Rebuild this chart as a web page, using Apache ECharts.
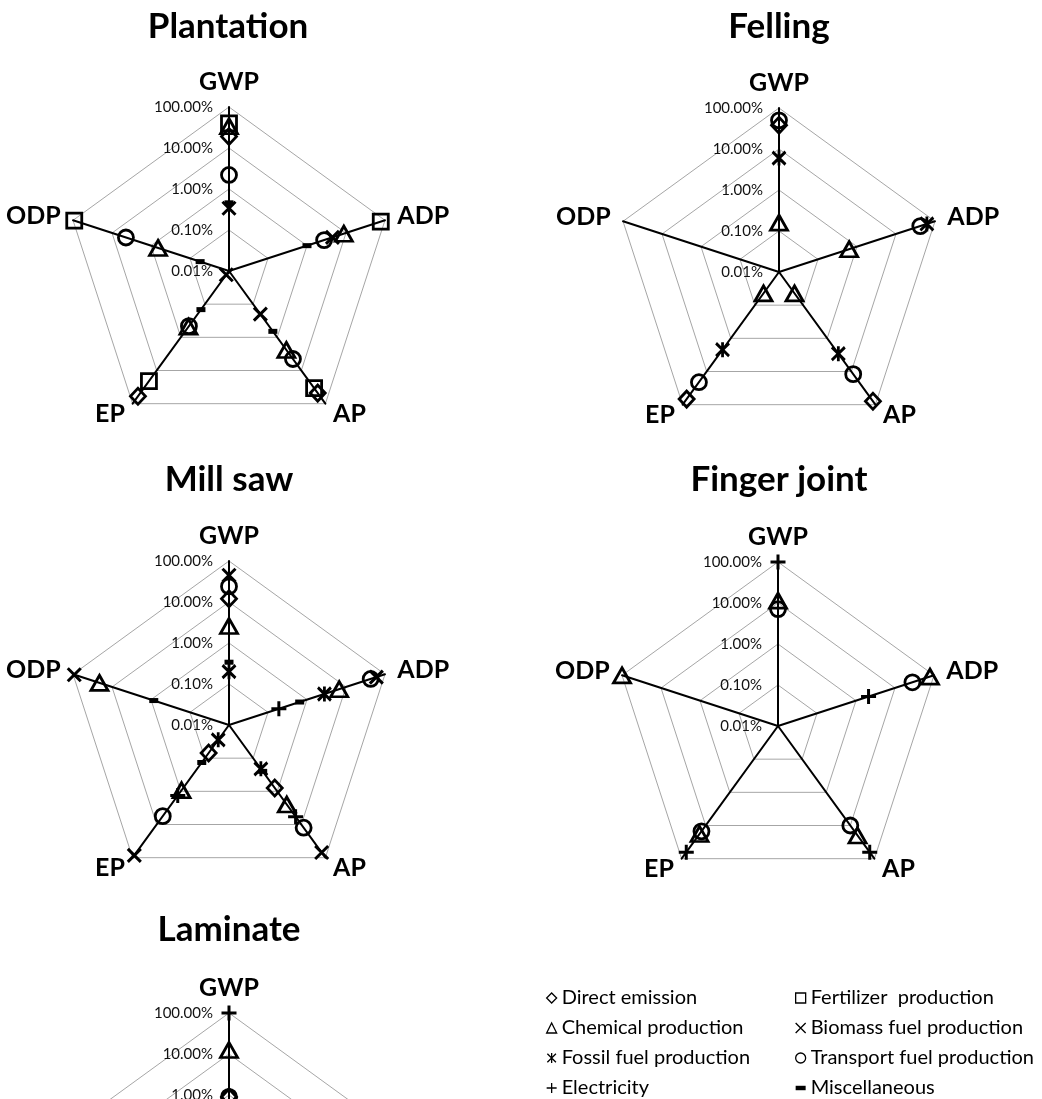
<!DOCTYPE html>
<html>
<head>
<meta charset="utf-8">
<script src="https://cdn.jsdelivr.net/npm/echarts@6/dist/echarts.min.js"></script>
<style>
  html, body { margin: 0; padding: 0; background: #fff; }
  #chart { width: 1042px; height: 1099px; }
</style>
</head>
<body>
<div id="chart"></div>
<script>
// Impact categories, clockwise from the top
const impactCategories = ['GWP', 'ADP', 'AP', 'EP', 'ODP'];
// Log-scale rings (0.01% at the centre, 100% at the rim)
const tickLabels = ['0.01%', '0.10%', '1.00%', '10.00%', '100.00%'];
const stageNames = ['Plantation', 'Felling', 'Mill saw', 'Finger joint', 'Laminate'];
const sourceNames = [
  'Direct emission', 'Chemical production', 'Fossil fuel production', 'Electricity',
  'Fertilizer  production', 'Biomass fuel production', 'Transport fuel production', 'Miscellaneous'
];

// Share of each source in each impact category (%), order: GWP, ADP, AP, EP, ODP
const plantation = {
  'Direct emission':           [19,   null, 48,   60,    null],
  'Chemical production':       [34,   8.8,  2.4,  0.48,  0.66],
  'Fertilizer  production':    [40,   78,   34,   21,    93],
  'Biomass fuel production':   [0.34, 4.5,  0.2,  0.013, null],
  'Transport fuel production': [2.2,  2.75, 4.5,  0.46,  4.4],
  'Miscellaneous':             [0.46, 1.0,  0.66, 0.146, 0.055]
};
const felling = {
  'Direct emission':           [38,   null, 79,    68,    null],
  'Chemical production':       [0.16, 0.63, 0.044, 0.044, null],
  'Fossil fuel production':    [6,    62,   2.9,   2.2,   null],
  'Transport fuel production': [50,   42,   12,    21,    null]
};
const millSaw = {
  'Direct emission':           [12,   null, 0.79, 0.07,  null],
  'Chemical production':       [2.6,  6.7,  2.5,  0.93,  21],
  'Fossil fuel production':    [0.2,  2.8,  0.21, 0.028, null],
  'Electricity':               [null, 0.19, 5.8,  1.34,  null],
  'Biomass fuel production':   [45,   60,   70,   85,    93],
  'Transport fuel production': [24,   43,   12.5, 5.6,   null],
  'Miscellaneous':             [0.34, 0.65, 0.25, 0.135, 0.85]
};
const fingerJoint = {
  'Chemical production':       [11.4, 79,  20, 18, 100],
  'Electricity':               [100,  2.1, 64, 64, null],
  'Transport fuel production': [7.1,  28,  10, 15, null]
};
const laminate = {
  'Direct emission':           [0.9,  null, null, null, null],
  'Chemical production':       [12.5, null, null, null, null],
  'Electricity':               [100,  null, null, null, null],
  'Transport fuel production': [0.9,  null, null, null, null]
};
const stageData = [plantation, felling, millSaw, fingerJoint, laminate];

// Placement of each stage's web
const webCenters = [[229, 271], [779, 272], [229, 725], [778, 726], [229, 1177]];
const titleCenters = [[228, 27], [779, 27], [229, 480], [779, 480], [229, 930]];
const RADIUS = 164;

// The radar grid lays indicators out counter-clockwise: GWP, ODP, EP, AP, ADP
const radarOrder = [0, 4, 3, 2, 1];

const PATH_X = 'path://M0,0L12,12M12,0L0,12';
const PATH_STAR = 'path://M0,1L12,13M12,1L0,13M6,0L6,14';
const PATH_PLUS = 'path://M6,0L6,12M0,6L12,6';
const PATH_DASH = 'path://M0,0L9,0L9,4L0,4Z';

const hollow = { color: 'rgba(0,0,0,0)', borderColor: '#000', borderWidth: 2.8, opacity: 1 };
const stroked = { color: 'rgba(0,0,0,0)', borderColor: '#000', borderWidth: 3, opacity: 1 };
const solid = { color: '#000', borderWidth: 0, opacity: 1 };
const markers = {
  'Direct emission':           { symbol: 'diamond',  size: [15, 16], style: hollow },
  'Chemical production':       { symbol: 'triangle', size: [17, 15], style: hollow },
  'Fossil fuel production':    { symbol: PATH_STAR,  size: [13, 15], style: stroked },
  'Electricity':               { symbol: PATH_PLUS,  size: [15, 15], style: stroked },
  'Fertilizer  production':    { symbol: 'rect',     size: [15, 15], style: hollow },
  'Biomass fuel production':   { symbol: PATH_X,     size: [13, 13], style: stroked },
  'Transport fuel production': { symbol: 'circle',   size: [15, 15], style: hollow },
  'Miscellaneous':             { symbol: 'rect',     size: [9, 5],   style: solid }
};
const legendIcons = {
  'Direct emission': 'diamond',
  'Chemical production': 'triangle',
  'Fossil fuel production': PATH_STAR,
  'Electricity': PATH_PLUS,
  'Fertilizer  production': 'rect',
  'Biomass fuel production': PATH_X,
  'Transport fuel production': 'circle',
  'Miscellaneous': PATH_DASH
};

const FONT = 'Lato, "Noto Sans", sans-serif';

// Pentagonal grid, spokes, log tick labels and category names
const radars = stageNames.map((name, s) => ({
  center: webCenters[s],
  radius: RADIUS,
  startAngle: 90,
  shape: 'polygon',
  splitNumber: 4,
  indicator: radarOrder.map((i, k) => {
    const ind = { name: impactCategories[i], min: -2, max: 2 };
    if (k === 0) ind.axisLabel = { show: true };
    return ind;
  }),
  nameGap: 13,
  axisName: { color: '#000', fontFamily: FONT, fontWeight: 'bold', fontSize: 25 },
  axisLine: { lineStyle: { color: '#000', width: 2 } },
  splitLine: { lineStyle: { color: '#a6a6a6', width: 1 } },
  splitArea: { show: false },
  axisTick: { show: false },
  axisLabel: {
    show: false,
    color: '#111',
    fontFamily: FONT,
    fontSize: 15,
    margin: 16,
    formatter: (v) => tickLabels[Math.round(v) + 2]
  }
}));

// Matching polar systems carry the markers, so absent sources leave no mark
const polars = stageNames.map((name, s) => ({ center: webCenters[s], radius: RADIUS }));
const angleAxes = stageNames.map((name, s) => ({
  polarIndex: s, type: 'category', data: impactCategories, boundaryGap: false,
  startAngle: 90, clockwise: true, show: false
}));
const radiusAxes = stageNames.map((name, s) => ({
  polarIndex: s, type: 'value', min: -2, max: 2, interval: 1, show: false
}));

const series = [];
stageData.forEach((stage, s) => {
  sourceNames.forEach((src) => {
    const vals = stage[src];
    if (!vals) return;
    const m = markers[src];
    const points = [];
    vals.forEach((v, i) => {
      if (v != null) points.push([Math.log10(v), impactCategories[i]]);
    });
    series.push({
      type: 'scatter',
      coordinateSystem: 'polar',
      polarIndex: s,
      name: src,
      silent: true,
      symbol: m.symbol,
      symbolSize: m.size,
      itemStyle: m.style,
      emphasis: { disabled: true },
      z: 5,
      data: points
    });
  });
});

const legendItem = (name) => ({
  name,
  icon: legendIcons[name],
  itemStyle: name === 'Miscellaneous'
    ? { color: '#000', borderWidth: 0, opacity: 1 }
    : { color: 'rgba(0,0,0,0)', borderColor: '#000', borderWidth: 1.3, opacity: 1 }
});
const legendCommon = {
  orient: 'vertical',
  top: 988,
  padding: 0,
  itemWidth: 10,
  itemHeight: 10,
  itemGap: 10,
  selectedMode: false,
  textStyle: { fontFamily: FONT, fontSize: 20, color: '#000', lineHeight: 20 }
};

const chart = echarts.init(document.getElementById('chart'), null, { renderer: 'canvas' });
chart.setOption({
  backgroundColor: '#fff',
  animation: false,
  textStyle: { fontFamily: FONT },
  radar: radars,
  polar: polars,
  angleAxis: angleAxes,
  radiusAxis: radiusAxes,
  series: series,
  legend: [
    Object.assign({ left: 546, data: sourceNames.slice(0, 4).map(legendItem) }, legendCommon),
    Object.assign({ left: 795, data: sourceNames.slice(4).map(legendItem) }, legendCommon)
  ],
  graphic: stageNames.map((name, s) => ({
    type: 'text',
    x: titleCenters[s][0],
    y: titleCenters[s][1],
    style: {
      text: name,
      fill: '#000',
      font: 'bold 35px ' + FONT,
      textAlign: 'center',
      textVerticalAlign: 'middle'
    }
  }))
});
</script>
</body>
</html>
